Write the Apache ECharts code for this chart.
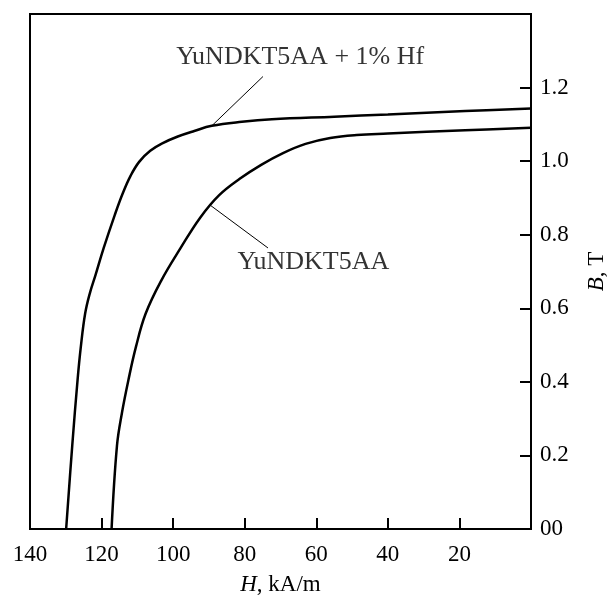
<!DOCTYPE html>
<html>
<head>
<meta charset="utf-8">
<script src="https://cdn.jsdelivr.net/npm/echarts@6/dist/echarts.min.js"></script>
<style>
html,body{margin:0;padding:0;background:#fff;}
#chart{width:616px;height:601px;}
</style>
</head>
<body>
<div id="chart"></div>
<script>
// Demagnetization curves: H (kA/m) vs B (T)
const xTicks = [140, 120, 100, 80, 60, 40, 20, 0];
const yTicks = [0, 0.2, 0.4, 0.6, 0.8, 1.0, 1.2];

const hfH = [129.9, 128.2, 126.7, 125.8, 124.6, 123.3, 121.7, 119.4, 116.3, 114.1, 111.9, 109.5, 106.4, 102.9, 98.7, 94.1, 89.2, 80.8, 72.4, 55, 40, 18.4, 0];
const hfB = [0, 0.226, 0.406, 0.495, 0.585, 0.64, 0.69, 0.764, 0.854, 0.912, 0.960, 0.998, 1.028, 1.049, 1.067, 1.082, 1.096, 1.107, 1.114, 1.121, 1.127, 1.136, 1.143];

const baseH = [117.2, 115.7, 114.3, 112.5, 110.4, 107.7, 103.4, 97.9, 92.4, 87.2, 81.4, 75.4, 69.3, 63.0, 56.1, 48.7, 40, 18.4, 0];
const baseB = [0, 0.226, 0.316, 0.405, 0.495, 0.585, 0.674, 0.764, 0.847, 0.907, 0.952, 0.990, 1.022, 1.047, 1.063, 1.071, 1.075, 1.084, 1.091];

const hfLeaderH = [89.2, 74.9];
const hfLeaderB = [1.096, 1.230];
const baseLeaderH = [89.6, 73.5];
const baseLeaderB = [0.880, 0.764];

const labelNames = ['YuNDKT5AA + 1% Hf', 'YuNDKT5AA'];
const labelH = [64.5, 60.8];
const labelB = [1.283, 0.724];

const pairs = (xs, ys) => xs.map((x, i) => [x, ys[i]]);
const FONT = '"Liberation Serif", "Times New Roman", serif';

const chart = echarts.init(document.getElementById('chart'), null, {renderer: 'canvas'});
chart.setOption({
  animation: false,
  backgroundColor: '#fff',
  grid: {left: 30, right: 77, top: 14, bottom: 67, show: true, borderColor: '#000', borderWidth: 2, backgroundColor: 'transparent'},
  xAxis: {
    type: 'value', inverse: true, min: 0, max: 140, interval: 20,
    name: '{i|H}, kA/m', nameLocation: 'middle', nameGap: 44,
    nameTextStyle: {fontFamily: FONT, fontSize: 23, color: '#000', rich: {i: {fontFamily: FONT, fontSize: 23, fontStyle: 'italic', color: '#000'}}},
    axisLine: {show: true, lineStyle: {color: '#000', width: 2}},
    axisTick: {show: true, inside: true, length: 11, lineStyle: {color: '#000', width: 2}},
    axisLabel: {margin: 14, fontFamily: FONT, fontSize: 23, color: '#000',
      formatter: v => (xTicks.includes(v) && v !== 0) ? String(v) : ''},
    splitLine: {show: false}
  },
  yAxis: {
    type: 'value', position: 'right', min: 0, max: 1.4, interval: 0.2,
    name: '{i|B}, T', nameLocation: 'middle', nameGap: 54, nameRotate: 90,
    nameTextStyle: {fontFamily: FONT, fontSize: 23, color: '#000', rich: {i: {fontFamily: FONT, fontSize: 23, fontStyle: 'italic', color: '#000'}}},
    axisLine: {show: true, lineStyle: {color: '#000', width: 2}},
    axisTick: {show: true, inside: true, length: 11, lineStyle: {color: '#000', width: 2}},
    axisLabel: {margin: 9, fontFamily: FONT, fontSize: 23, color: '#000',
      formatter: v => {
        const t = yTicks.find(k => Math.abs(k - v) < 1e-6);
        if (t === undefined) return '';
        return t === 0 ? '00' : t.toFixed(1);
      }},
    splitLine: {show: false}
  },
  series: [
    {type: 'line', name: labelNames[0], data: pairs(hfH, hfB), smooth: 0.4, showSymbol: false,
      lineStyle: {color: '#000', width: 2.5}},
    {type: 'line', name: labelNames[1], data: pairs(baseH, baseB), smooth: 0.4, showSymbol: false,
      lineStyle: {color: '#000', width: 2.5}},
    {type: 'line', data: pairs(hfLeaderH, hfLeaderB), showSymbol: false, lineStyle: {color: '#000', width: 1}},
    {type: 'line', data: pairs(baseLeaderH, baseLeaderB), showSymbol: false, lineStyle: {color: '#000', width: 1}},
    {type: 'scatter', symbolSize: 0, silent: true,
      data: labelNames.map((n, i) => ({value: [labelH[i], labelB[i]], name: n})),
      label: {show: true, position: [0, 0], align: 'center', verticalAlign: 'middle',
        formatter: p => p.name, fontFamily: FONT, fontSize: 26, color: '#000', textBorderWidth: 0}}
  ]
});
</script>
</body>
</html>
